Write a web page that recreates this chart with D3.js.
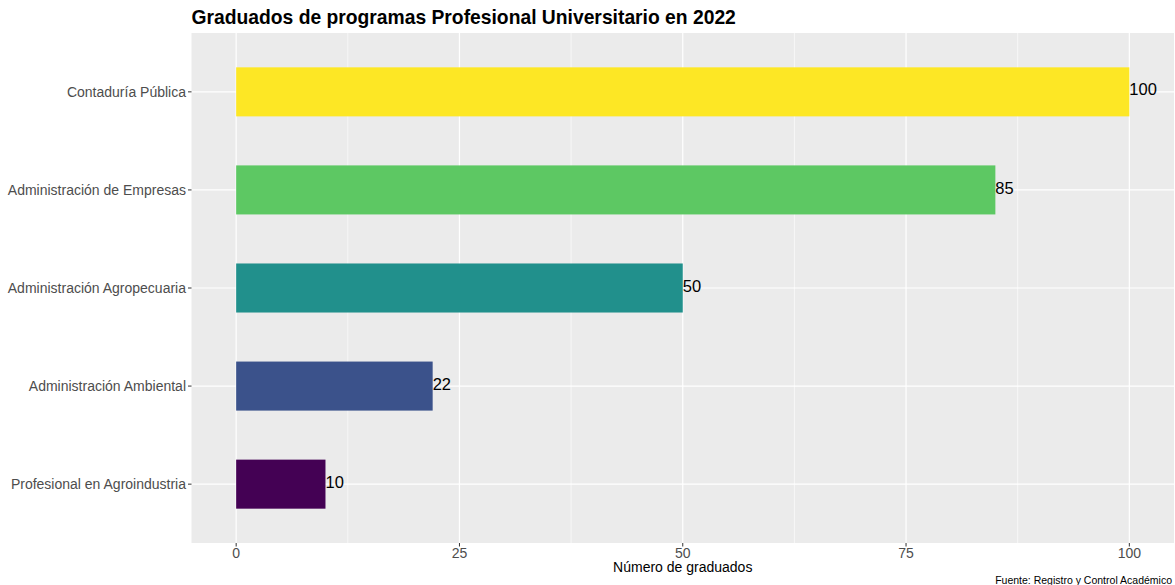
<!DOCTYPE html>
<html><head><meta charset="utf-8">
<script src="https://cdn.jsdelivr.net/npm/d3@7"></script>
<style>body{margin:0;background:#fff;}svg{display:block;font-family:"Liberation Sans",Arial,sans-serif;}</style>
</head><body>
<svg id="chart" width="1175" height="585"></svg>
<script>
const categories = ["Contaduría Pública","Administración de Empresas","Administración Agropecuaria","Administración Ambiental","Profesional en Agroindustria"];
const values = [100, 85, 50, 22, 10];
const colors = ["#FDE725","#5DC863","#21908C","#3B528B","#440154"];
const xTicks = [0, 25, 50, 75, 100];
const xMinor = [12.5, 37.5, 62.5, 87.5];
const title = "Graduados de programas Profesional Universitario en 2022";
const xTitle = "Número de graduados";
const caption = "Fuente: Registro y Control Académico";

(function () {
const svg = d3.select("#chart");
const pL = 191.5, pR = 1174, pT = 33, pB = 543;

const x = d3.scaleLinear().domain([-5, 105]).range([pL, pR]);
const yc = d3.scaleLinear().domain([0.4, categories.length + 0.6]).range([pT, pB]);
const cy = (d) => yc(categories.indexOf(d) + 1);
const barH = (yc(1) - yc(0)) * 0.5;

svg.append("rect").attr("x", pL).attr("y", pT).attr("width", pR - pL).attr("height", pB - pT).attr("fill", "#EBEBEB");

const g = svg.append("g");
g.selectAll(".minor").data(xMinor).join("line")
  .attr("x1", d => x(d)).attr("x2", d => x(d)).attr("y1", pT).attr("y2", pB)
  .attr("stroke", "#fff").attr("stroke-width", 0.6);
g.selectAll(".major").data(xTicks).join("line")
  .attr("x1", d => x(d)).attr("x2", d => x(d)).attr("y1", pT).attr("y2", pB)
  .attr("stroke", "#fff").attr("stroke-width", 1.2);
g.selectAll(".hmajor").data(categories).join("line")
  .attr("x1", pL).attr("x2", pR).attr("y1", d => cy(d)).attr("y2", d => cy(d))
  .attr("stroke", "#fff").attr("stroke-width", 1.2);

g.selectAll(".bar").data(categories).join("rect")
  .attr("x", x(0)).attr("y", d => cy(d) - barH / 2)
  .attr("width", (d, i) => x(values[i]) - x(0)).attr("height", barH)
  .attr("fill", (d, i) => colors[i]);

g.selectAll(".val").data(categories).join("text")
  .attr("x", (d, i) => x(values[i])).attr("y", d => cy(d)).attr("dy", "0.22em")
  .attr("font-size", 16.5).attr("fill", "#000").text((d, i) => values[i]);

const ya = svg.append("g");
ya.selectAll("line").data(categories).join("line")
  .attr("x1", pL - 3.5).attr("x2", pL).attr("y1", d => cy(d)).attr("y2", d => cy(d))
  .attr("stroke", "#333").attr("stroke-width", 1);
ya.selectAll("text").data(categories).join("text")
  .attr("x", pL - 5.5).attr("y", d => cy(d)).attr("dy", "0.36em").attr("text-anchor", "end")
  .attr("font-size", 14).attr("fill", "#4D4D4D").text(d => d);

const xa = svg.append("g");
xa.selectAll("line").data(xTicks).join("line")
  .attr("x1", d => x(d)).attr("x2", d => x(d)).attr("y1", pB).attr("y2", pB + 3.5)
  .attr("stroke", "#333").attr("stroke-width", 1);
xa.selectAll("text").data(xTicks).join("text")
  .attr("x", d => x(d)).attr("y", pB + 15).attr("text-anchor", "middle")
  .attr("font-size", 14).attr("fill", "#4D4D4D").text(d => d);

svg.append("text").attr("x", (pL + pR) / 2).attr("y", 572).attr("text-anchor", "middle")
  .attr("font-size", 14).attr("fill", "#000").text(xTitle);
svg.append("text").attr("x", pL).attr("y", 24).attr("font-size", 19.3).attr("font-weight", "bold")
  .attr("fill", "#000").text(title);
svg.append("text").attr("x", 1172).attr("y", 584).attr("text-anchor", "end")
  .attr("font-size", 10.5).attr("fill", "#000").text(caption);
})();
</script>
</body></html>
